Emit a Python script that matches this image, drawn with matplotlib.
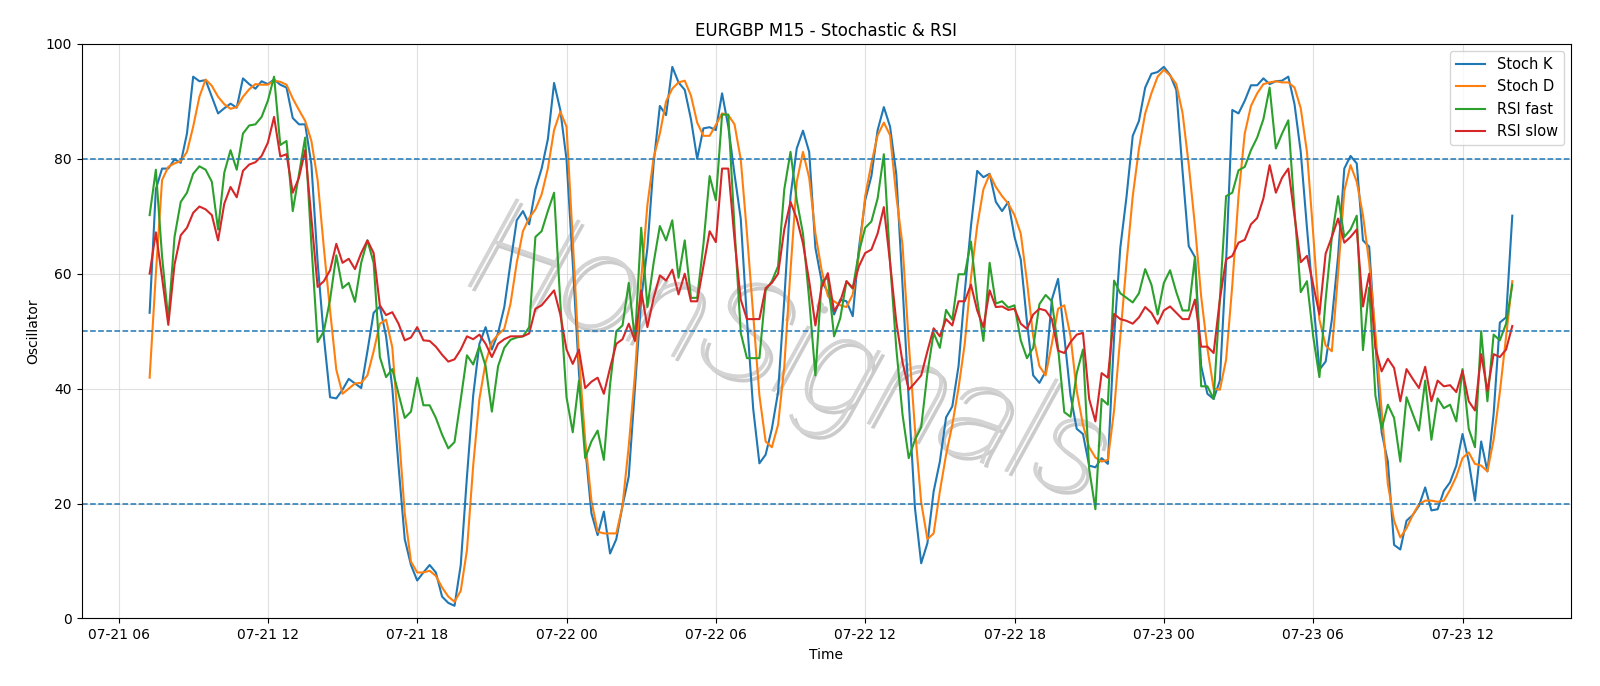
import matplotlib
matplotlib.use("Agg")
import matplotlib.pyplot as plt
import matplotlib.dates as mdates
import matplotlib.patheffects as pe
import pandas as pd

times = pd.date_range("2025-07-21 07:15", periods=220, freq="15min")
x_range = [pd.Timestamp("2025-07-21 04:31"), pd.Timestamp("2025-07-23 16:22")]

stoch_k = [53.2, 74.7, 78.3, 78.3, 79.9, 79.3, 84.4, 94.3, 93.5, 93.7,
           90.8, 87.9, 88.8, 89.6, 88.9, 94.0, 93.0, 92.2, 93.5, 93.0,
           93.8, 92.9, 92.4, 87.1, 86.0, 86.0, 79.0, 62.0, 49.0, 38.5,
           38.3, 39.8, 41.7, 40.9, 40.1, 46.5, 53.2, 54.3, 49.1, 40.1,
           26.6, 13.8, 9.3, 6.6, 8.0, 9.3, 8.0, 3.8, 2.7, 2.2,
           9.3, 24.7, 38.8, 47.8, 50.7, 46.8, 49.7, 54.2, 61.9, 69.3,
           70.9, 68.6, 74.7, 78.3, 83.4, 93.2, 88.5, 79.9, 61.9, 42.7,
           29.8, 18.3, 14.5, 18.6, 11.3, 13.8, 19.6, 24.7, 40.1, 55.5,
           64.5, 79.2, 89.2, 87.6, 96.0, 93.3, 92.0, 86.9, 80.0, 85.3,
           85.5, 85.0, 91.4, 85.6, 77.3, 69.6, 52.0, 36.5, 27.0, 28.5,
           33.0, 39.4, 55.5, 73.5, 81.8, 84.9, 81.2, 64.5, 58.7, 56.8,
           52.9, 55.5, 55.2, 52.6, 64.5, 72.8, 77.0, 85.0, 89.0, 85.6,
           77.3, 58.0, 38.0, 19.2, 9.6, 13.1, 22.1, 27.3, 35.0, 36.9,
           43.9, 56.8, 68.3, 77.9, 76.8, 77.4, 72.5, 70.9, 72.5, 66.4,
           62.5, 51.6, 42.3, 41.0, 43.0, 55.5, 59.1, 49.1, 38.8, 33.0,
           32.1, 26.6, 26.3, 27.9, 26.9, 49.0, 64.5, 73.4, 84.0, 86.6,
           92.4, 94.8, 95.1, 96.0, 94.6, 92.0, 77.9, 64.8, 62.9, 43.9,
           39.1, 38.2, 41.4, 61.9, 88.5, 87.9, 90.1, 92.8, 92.8, 94.0,
           93.0, 93.5, 93.6, 94.3, 89.5, 81.2, 68.0, 55.5, 43.3, 44.7,
           52.0, 63.0, 78.3, 80.5, 79.2, 65.8, 64.7, 48.0, 32.4, 27.3,
           12.8, 12.0, 17.0, 18.0, 19.6, 22.8, 18.8, 19.0, 22.2, 23.7,
           26.6, 32.1, 27.3, 20.5, 30.8, 25.6, 35.6, 51.5, 52.4, 70.1]

stoch_d = [41.9, 60.0, 76.3, 78.6, 79.2, 79.6, 81.2, 85.6, 90.8, 93.8,
           92.7, 90.8, 89.5, 88.7, 89.0, 90.8, 92.1, 93.0, 92.9, 92.9,
           93.6, 93.4, 92.9, 90.5, 88.5, 86.6, 83.1, 76.3, 64.5, 53.6,
           43.3, 39.1, 40.0, 40.9, 41.0, 42.3, 46.5, 51.3, 52.0, 47.2,
           33.0, 18.3, 9.9, 8.0, 8.0, 8.3, 7.4, 5.4, 3.8, 2.9,
           4.8, 11.9, 26.6, 38.2, 44.6, 48.1, 49.4, 50.4, 54.8, 61.9,
           67.4, 69.7, 71.2, 73.8, 78.3, 85.0, 88.2, 85.6, 66.0, 45.5,
           31.0, 20.5, 15.1, 14.8, 14.8, 14.8, 19.6, 30.0, 42.5, 59.0,
           72.0, 80.2, 84.4, 90.0, 92.2, 93.3, 93.6, 91.0, 86.3, 84.0,
           84.0, 85.9, 87.9, 87.6, 86.0, 79.9, 67.0, 52.9, 38.8, 30.8,
           29.8, 33.7, 43.9, 60.6, 76.0, 81.2, 76.7, 67.0, 60.6, 56.1,
           55.2, 54.5, 54.2, 56.4, 63.2, 73.5, 79.2, 84.1, 86.3, 84.1,
           73.5, 65.0, 48.0, 33.0, 20.2, 13.8, 14.8, 22.1, 28.5, 33.7,
           40.1, 47.8, 59.3, 68.3, 74.7, 77.3, 75.1, 73.5, 72.2, 70.2,
           67.0, 58.7, 49.1, 43.9, 42.3, 47.8, 53.9, 54.5, 49.1, 39.6,
           33.7, 29.8, 28.0, 27.3, 27.6, 36.2, 49.1, 61.9, 73.5, 81.8,
           87.9, 91.4, 94.3, 95.5, 94.5, 93.0, 88.0, 79.0, 68.3, 56.0,
           47.0, 40.0, 39.8, 45.0, 58.0, 73.5, 84.4, 89.2, 91.4, 93.0,
           93.3, 93.5, 93.3, 93.3, 92.4, 88.8, 81.2, 67.0, 52.0, 47.5,
           46.5, 60.0, 74.4, 78.9, 76.0, 70.2, 61.9, 49.7, 36.2, 23.4,
           17.0, 14.1, 15.7, 18.0, 19.9, 20.5, 20.5, 20.3, 20.5, 22.4,
           24.7, 27.9, 28.9, 26.9, 26.6, 25.6, 31.1, 39.4, 49.1, 58.7]

rsi_fast = [70.2, 78.1, 63.0, 52.0, 66.4, 72.5, 74.1, 77.4, 78.7, 78.1,
            76.0, 67.7, 77.6, 81.5, 78.1, 84.4, 85.8, 86.0, 87.3, 90.1,
            94.3, 82.4, 83.1, 70.9, 77.3, 83.7, 65.0, 48.1, 50.0, 55.5,
            63.2, 57.5, 58.4, 55.1, 61.9, 65.8, 61.9, 45.5, 42.0, 43.4,
            39.1, 34.9, 36.0, 41.9, 37.1, 37.1, 34.9, 32.0, 29.6, 30.7,
            38.1, 45.8, 44.2, 47.4, 43.9, 36.0, 43.9, 47.1, 48.5, 48.9,
            49.1, 50.7, 66.4, 67.4, 70.9, 74.1, 55.0, 38.5, 32.4, 41.4,
            27.9, 30.8, 32.7, 27.6, 40.7, 50.0, 51.0, 58.4, 48.4, 68.0,
            54.2, 61.9, 68.3, 65.8, 69.3, 59.3, 65.8, 55.8, 55.8, 65.1,
            77.0, 72.8, 87.7, 87.7, 68.0, 49.7, 45.3, 45.3, 45.3, 57.1,
            58.7, 61.3, 74.7, 81.2, 72.8, 67.0, 55.5, 42.3, 58.7, 59.3,
            49.1, 52.3, 58.7, 57.4, 63.8, 68.0, 69.1, 73.1, 80.8, 62.0,
            47.0, 35.5, 27.9, 31.1, 33.3, 42.7, 49.7, 47.1, 53.7, 52.0,
            59.9, 59.9, 65.6, 55.5, 48.3, 61.9, 54.8, 55.2, 54.1, 54.5,
            48.4, 45.3, 47.1, 54.7, 56.3, 55.2, 47.1, 35.9, 35.1, 42.7,
            46.8, 26.0, 19.0, 38.2, 37.2, 58.8, 56.6, 55.8, 55.0, 56.6,
            60.8, 58.1, 52.9, 58.4, 60.6, 56.8, 53.6, 53.6, 62.9, 40.4,
            40.4, 38.2, 55.5, 73.5, 74.1, 78.0, 78.6, 81.5, 83.7, 86.9,
            92.4, 81.8, 84.4, 86.7, 71.0, 56.8, 58.7, 49.1, 42.0, 55.5,
            66.4, 73.5, 66.4, 67.7, 70.1, 46.7, 57.6, 38.8, 33.0, 37.2,
            34.9, 27.3, 38.5, 35.6, 32.7, 41.4, 31.1, 38.3, 36.6, 37.2,
            34.3, 43.4, 33.0, 29.8, 50.0, 37.8, 49.4, 48.4, 51.3, 58.1]

rsi_slow = [60.0, 67.2, 59.3, 51.1, 61.6, 66.7, 68.0, 70.6, 71.7, 71.2,
            70.2, 65.8, 72.2, 75.1, 73.3, 77.9, 79.0, 79.4, 80.5, 82.8,
            87.3, 80.4, 80.8, 74.1, 76.7, 81.5, 69.6, 57.7, 58.7, 60.6,
            65.2, 61.9, 62.6, 60.8, 63.6, 65.8, 63.6, 54.5, 52.8, 53.3,
            51.3, 48.4, 48.9, 50.7, 48.4, 48.3, 47.3, 45.9, 44.7, 45.1,
            46.8, 49.1, 48.6, 49.4, 47.8, 45.5, 47.8, 48.6, 49.1, 49.1,
            49.1, 49.6, 53.9, 54.5, 55.8, 57.1, 52.9, 46.8, 44.3, 46.8,
            40.1, 41.2, 41.9, 39.1, 43.6, 47.8, 48.6, 51.3, 48.3, 57.1,
            50.7, 55.8, 59.7, 58.8, 60.7, 56.4, 60.0, 55.2, 55.2, 61.3,
            67.4, 65.5, 78.3, 78.3, 66.0, 55.5, 52.1, 52.1, 52.1, 57.5,
            58.4, 60.0, 67.7, 72.5, 69.6, 65.3, 58.7, 51.0, 57.7, 60.1,
            53.5, 55.2, 58.7, 57.5, 61.3, 63.6, 64.2, 67.0, 71.6, 61.9,
            51.6, 44.6, 39.8, 41.0, 42.3, 46.5, 50.5, 49.1, 52.1, 51.0,
            55.2, 55.2, 58.1, 53.6, 50.7, 57.1, 54.2, 54.3, 53.7, 53.9,
            51.3, 50.4, 52.9, 53.9, 53.6, 52.1, 46.6, 46.2, 48.1, 49.4,
            49.7, 38.2, 34.3, 42.7, 41.9, 53.0, 52.1, 51.8, 51.3, 52.4,
            54.2, 53.2, 51.3, 53.6, 54.3, 53.2, 52.1, 52.1, 55.5, 47.3,
            47.3, 46.2, 55.5, 62.5, 63.1, 65.4, 65.9, 68.6, 69.7, 73.1,
            78.9, 74.1, 76.7, 78.3, 70.0, 62.0, 63.1, 58.1, 52.9, 63.5,
            66.4, 69.6, 65.4, 66.4, 67.7, 54.3, 60.0, 47.1, 43.0, 45.2,
            43.6, 37.8, 43.4, 41.7, 40.1, 43.8, 37.8, 41.4, 40.4, 40.6,
            39.4, 43.1, 37.8, 36.2, 46.0, 39.6, 46.0, 45.5, 46.8, 50.9]

levels = [80, 50, 20]
series = [("Stoch K", stoch_k), ("Stoch D", stoch_d),
          ("RSI fast", rsi_fast), ("RSI slow", rsi_slow)]
colors = ["#1f77b4", "#ff7f0e", "#2ca02c", "#d62728"]

fig = plt.figure(figsize=(16, 6.86), dpi=100)
ax = fig.add_axes([0.051, 0.0985, 0.931, 0.8375])

for (name, vals), c in zip(series, colors):
    ax.plot(times, vals, color=c, lw=1.5, label=name)

for lv in levels:
    ax.axhline(lv, color="#1f77b4", ls="--", lw=1.1)

ax.set_xlim(x_range[0], x_range[1])
ax.set_ylim(0, 100)
ax.grid(True, color="#cccccc", alpha=0.6, lw=0.8)
ax.set_axisbelow(True)
ax.xaxis.set_major_locator(mdates.HourLocator(byhour=[0, 6, 12, 18]))
ax.xaxis.set_major_formatter(mdates.DateFormatter("%m-%d %H"))
ax.set_xlabel("Time", fontsize=10)
ax.set_ylabel("Oscillator", fontsize=10)
ax.set_title("EURGBP M15 - Stochastic & RSI", fontsize=12)
ax.legend(loc="upper right", fontsize=10.5)

ax.text(0.474, 0.455, "HonSignals", transform=ax.transAxes, fontsize=100,
        family="Roboto", fontweight="light", style="italic",
        color="#d4d4d4", alpha=0.9, rotation=-19, ha="center", va="center",
        zorder=0,
        path_effects=[pe.withSimplePatchShadow(offset=(3, -3), shadow_rgbFace="#999999", alpha=0.5),
                      pe.Normal()])

fig.savefig("out.png", dpi=100)
